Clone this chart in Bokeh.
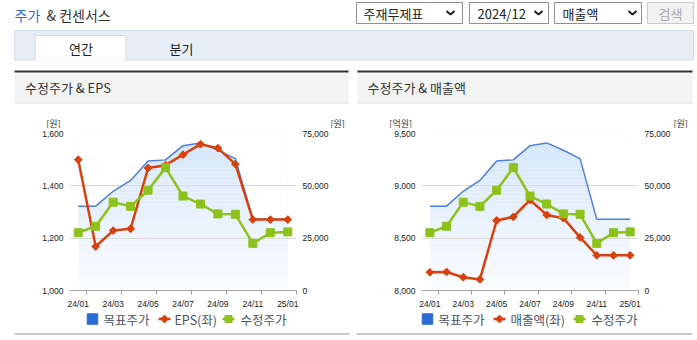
import math
import numpy as np
from bokeh.plotting import figure
from bokeh.models import Range1d, LinearAxis, FixedTicker, NumeralTickFormatter
from bokeh.layouts import column, row
from bokeh.embed import file_html
from bokeh.resources import INLINE
from bokeh.core.properties import value

# ---------------- data ----------------
months = ["24/01", "24/02", "24/03", "24/04", "24/05", "24/06", "24/07",
          "24/08", "24/09", "24/10", "24/11", "24/12", "25/01"]
target_price = [40300, 40300, 47400, 52600, 61900, 62400, 69200, 70500, 67000, 63000, 34000, 34000, 34000]
adj_price = [27600, 30700, 42200, 40200, 47900, 58700, 45100, 41300, 36600, 36400, 22500, 27600, 28000]
eps = [1500, 1168, 1229, 1236, 1468, 1479, 1519, 1559, 1544, 1483, 1271, 1271, 1271]
revenue = [8174, 8177, 8127, 8106, 8669, 8703, 8865, 8722, 8691, 8507, 8336, 8336, 8336]

eps_ticks = [1000, 1200, 1400, 1600]
revenue_ticks = [8000, 8500, 9000, 9500]
price_ticks = [0, 25000, 50000, 75000]

KR = "Noto Sans CJK KR"
NUM = "Liberation Sans"
BLUE_LINE = "#4d80df"
BLUE_KEY = "#2a6bd6"
RED = "#d8400e"
GREEN = "#8cc21b"
LEG_TXT = "#4a5468"

HEAD_H = 128


def deco(w, h, y0):
    f = figure(width=w, height=h, x_range=Range1d(0, w), y_range=Range1d(y0 + h, y0),
               output_backend="svg", toolbar_location=None, min_border=0,
               x_axis_location=None, y_axis_location=None, outline_line_color=None,
               background_fill_color="white", border_fill_color="white")
    f.grid.visible = False
    return f


def txt(f, x, y, s, size, color, align="left", font=KR):
    f.text(x=[x], y=[y], text=[s], text_font=value(font), text_font_size=size,
           text_color=color, text_align=align, text_baseline="middle")


# ---------------- header ----------------
H = deco(697, HEAD_H, 0)
txt(H, 14, 14, "주가", "14px", "#2f6bd9")
txt(H, 46, 14, "& 컨센서스", "14px", "#333333")

# selects
boxes = [(356, 462), (469, 548), (554, 641)]
H.quad(left=[b[0] for b in boxes], right=[b[1] for b in boxes], top=[2] * 3, bottom=[23] * 3,
       fill_color="white", line_color="#8f8f8f", line_width=1)
H.quad(left=[647], right=[693], top=[2], bottom=[23], fill_color="#f2f2f2", line_color="#c9c9c9")
txt(H, 363, 12.5, "주재무제표", "13px", "#222222")
txt(H, 477, 12.5, "2024/12", "13px", "#222222")
txt(H, 562, 12.5, "매출액", "13px", "#222222")
txt(H, 670, 12.5, "검색", "13px", "#a8a8a8", align="center")
H.multi_line(xs=[[446, 450, 454], [534, 538, 542], [628, 632, 636]],
             ys=[[10.5, 14, 10.5]] * 3, line_color="#222222", line_width=2)

# tab bar
H.quad(left=[14], right=[693], top=[30], bottom=[59.5], fill_color="#e8eef8", line_color="#d3dbe7")
H.quad(left=[34.5], right=[125.5], top=[35], bottom=[60], fill_color="white", line_color=None)
H.multi_line(xs=[[34.5, 34.5, 125.5, 125.5]], ys=[[60, 35, 35, 60]], line_color="#cfd7e4", line_width=1)
txt(H, 80.5, 47.5, "연간", "13px", "#222222", align="center")
txt(H, 181, 47.5, "분기", "13px", "#222222", align="center")

# panel headers
H.quad(left=[14, 357], right=[348, 692], top=[72, 72], bottom=[102, 102],
       fill_color="#f3f3f3", line_color=None)
H.multi_line(xs=[[14, 348], [357, 692]], ys=[[71, 71], [71, 71]], line_color="#333333", line_width=2)
H.multi_line(xs=[[14, 348], [357, 692]], ys=[[102.5, 102.5], [102.5, 102.5]], line_color="#dddddd", line_width=1)
txt(H, 24.5, 87, "수정주가 & EPS", "13px", "#333333")
txt(H, 367, 87, "수정주가 & 매출액", "13px", "#333333")

# axis unit captions
txt(H, 60, 122.5, "[원]", "9px", "#333333", align="right")
txt(H, 330, 122.5, "[원]", "9px", "#333333")
txt(H, 411.5, 122.5, "[억원]", "9px", "#333333", align="right")
txt(H, 673, 122.5, "[원]", "9px", "#333333")


# ---------------- charts ----------------
def chart(left_vals, left_ticks, width, bl, br):
    n = len(months)
    xs = list(range(n))
    p = figure(width=width, height=311 - HEAD_H, x_range=Range1d(-0.5, n - 0.5),
               y_range=Range1d(left_ticks[0], left_ticks[-1]),
               output_backend="svg", toolbar_location=None,
               min_border_left=bl, min_border_right=br, min_border_top=133 - HEAD_H, min_border_bottom=18,
               outline_line_color=None, background_fill_color="white", border_fill_color="white")
    p.extra_y_ranges = {"price": Range1d(price_ticks[0], price_ticks[-1])}

    # gradient area under target price
    nb = 40
    lo, hi = price_ticks[0], price_ticks[-1]
    edges = np.linspace(lo, hi, nb + 1)
    top_c = np.array([212, 229, 249])
    bot_c = np.array([251, 252, 255])
    cols = []
    for k in range(nb):
        t = (k + 0.5) / nb
        c = bot_c + (top_c - bot_c) * t
        cols.append("#%02x%02x%02x" % tuple(int(round(v)) for v in c))
    r1 = p.quad(left=xs[0], right=xs[-1], bottom=list(edges[:-1]), top=list(edges[1:]),
                fill_color=cols, line_color=None, y_range_name="price")
    r1.level = "image"
    r2 = p.varea(x=xs, y1=target_price, y2=[hi] * n, fill_color="white", y_range_name="price")
    r2.level = "image"

    p.xgrid.visible = False
    p.ygrid.ticker = FixedTicker(ticks=left_ticks)
    p.ygrid.grid_line_color = "#d9d9d9"

    p.line(xs, target_price, line_color=BLUE_LINE, line_width=1.5, y_range_name="price")
    p.line(xs, left_vals, line_color=RED, line_width=2.5)
    p.scatter(xs, left_vals, marker="square", angle=math.pi / 4, size=5.5,
              fill_color=RED, line_color=RED)
    p.line(xs, adj_price, line_color=GREEN, line_width=2.5, y_range_name="price")
    p.scatter(xs, adj_price, marker="square", size=8, fill_color=GREEN, line_color=GREEN,
              y_range_name="price")

    # x axis
    xa = p.xaxis[0]
    xa.ticker = FixedTicker(ticks=xs[::2], minor_ticks=[k + 0.5 for k in range(0, n, 2)])
    xa.major_label_overrides = {i: months[i] for i in xs[::2]}
    xa.major_tick_out = 0
    xa.major_tick_in = 0
    xa.minor_tick_out = 4
    xa.minor_tick_in = 0
    xa.minor_tick_line_color = "#9a9a9a"
    xa.axis_line_color = "#a8a8a8"
    xa.major_label_standoff = 4
    xa.major_label_text_font = NUM
    xa.major_label_text_font_size = "8.5px"
    xa.major_label_text_color = "#222222"

    def style_y(a):
        a.axis_line_color = None
        a.major_tick_line_color = None
        a.minor_tick_line_color = None
        a.major_tick_out = 0
        a.major_tick_in = 0
        a.major_label_standoff = 6
        a.major_label_text_font = NUM
        a.major_label_text_font_size = "8.5px"
        a.major_label_text_color = "#222222"

    ya = p.yaxis[0]
    ya.ticker = FixedTicker(ticks=left_ticks)
    ya.formatter = NumeralTickFormatter(format="0,0")
    style_y(ya)

    ra = LinearAxis(y_range_name="price", ticker=FixedTicker(ticks=price_ticks),
                    formatter=NumeralTickFormatter(format="0,0"))
    style_y(ra)
    p.add_layout(ra, "right")
    return p


left = chart(eps, eps_ticks, 350, 69, 54)
right = chart(revenue, revenue_ticks, 347, 71, 59)

# ---------------- footer (legends) ----------------
F = deco(697, 29, 311)
F.scatter(x=[92, 427], y=[318.5, 318.5], marker="square", size=10.5,
          fill_color=BLUE_KEY, line_color=BLUE_KEY)
F.multi_line(xs=[[158, 170], [493, 505]], ys=[[318.5, 318.5]] * 2, line_color=RED, line_width=2.5)
F.scatter(x=[164, 499], y=[318.5, 318.5], marker="square", angle=math.pi / 4, size=5.5,
          fill_color=RED, line_color=RED)
F.multi_line(xs=[[222, 234], [573, 585]], ys=[[318.5, 318.5]] * 2, line_color=GREEN, line_width=2.5)
F.scatter(x=[228, 579], y=[318.5, 318.5], marker="square", size=7, fill_color=GREEN, line_color=GREEN)
for x, s in [(103, "목표주가"), (174, "EPS(좌)"), (240, "수정주가"),
             (438, "목표주가"), (510, "매출액(좌)"), (591, "수정주가")]:
    txt(F, x, 318.5, s, "12.5px", LEG_TXT)
F.multi_line(xs=[[14, 349], [356, 692]], ys=[[333.5, 333.5]] * 2, line_color="#c8c8c8", line_width=2)

page = column(H, row(left, right), F)
open("out.html", "w").write(file_html(page, INLINE))
